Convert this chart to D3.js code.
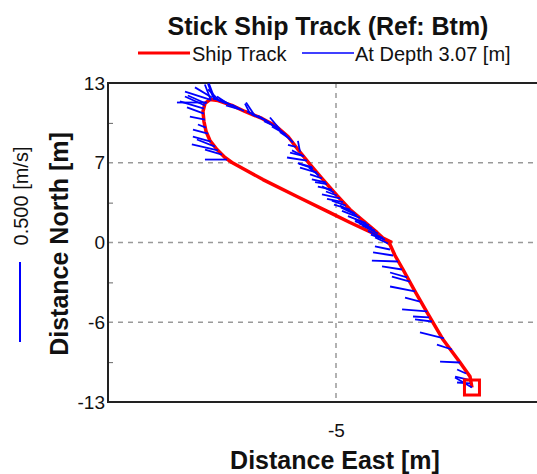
<!DOCTYPE html>
<html>
<head>
<meta charset="utf-8">
<script src="https://cdn.jsdelivr.net/npm/d3@7"></script>
<style>
  body { margin: 0; background: #fff; }
  svg { display: block; font-family: "Liberation Sans", Arial, sans-serif; }
</style>
</head>
<body>
<svg id="chart" width="537" height="474"></svg>
<script>
// ship track (metres east / north of reference)
const trackE = [6.08, 5.92, 5.11, 3.72, 2.42, 1.44, 0.46, -0.19, -0.60,
  -1.66, -2.80, -3.86, -4.92, -6.06, -7.12, -8.10, -8.91, -9.97, -11.03,
  -12.42, -13.48, -14.62, -15.27, -15.68,
  -15.84, -15.76, -15.59, -15.27, -14.70, -14.05,
  -13.48, -10.95, -8.18, -5.49, -3.86, -2.64, -1.41, -0.43];
const trackN = [-11.82, -10.92, -9.78, -7.91, -5.70, -3.99, -2.20, -1.06, -0.16,
  0.82, 1.79, 2.69, 3.83, 5.13, 6.36, 7.58, 8.64, 9.54, 10.11,
  10.68, 11.17, 11.57, 11.65, 11.33,
  10.68, 9.86, 9.05, 8.31, 7.58, 6.93,
  6.52, 5.13, 3.75, 2.44, 1.63, 1.06, 0.49, 0.00];

// current sticks at depth 3.07 m: ensemble position and velocity (m/s)
const stickE = [6.08, 5.92, 5.76, 5.60, 5.11, 4.45, 3.80, 2.82, 2.58, 2.42,
  1.85, 1.44, 1.03, 0.79, 0.38, 0.05, -0.35, -0.60, -0.76, -1.17,
  -1.58, -2.07, -2.55, -3.04, -3.45, -3.86, -4.43, -4.92, -5.33, -5.73,
  -6.14, -6.55, -6.96, -7.36, -7.69, -7.93, -8.26, -8.75, -9.32, -9.81,
  -10.38, -10.95, -11.44, -12.01, -12.50, -12.99, -13.48, -13.97, -14.45, -14.86,
  -15.19, -15.51, -15.68, -15.76, -15.76, -15.68, -15.60, -15.43, -15.19, -14.86,
  -14.62, -14.29, -13.88, -15.27, -15.11,
  -1.01, -1.82, -2.31, -3.29, -4.19, -4.67, -5.16, -5.82, -6.39, -6.87,
  -7.61, -8.50, -9.08, -9.56, -10.71, -11.68, -12.82, -13.72, -14.94, -15.60];
const stickN = [-11.82, -11.49, -11.17, -10.68, -9.78, -8.72, -7.82, -6.44, -6.11, -5.62,
  -4.81, -3.99, -3.18, -2.85, -2.20, -1.55, -1.06, -0.57, -0.08, 0.37,
  0.73, 1.17, 1.58, 2.00, 2.35, 2.69, 3.30, 3.83, 4.30, 4.76,
  5.23, 5.70, 6.14, 6.68, 7.07, 7.38, 7.79, 8.43, 8.98, 9.39,
  9.76, 10.07, 10.27, 10.50, 10.72, 10.94, 11.17, 11.34, 11.51, 11.65,
  11.57, 11.41, 11.17, 10.92, 10.51, 10.02, 9.37, 8.88, 8.23, 7.82,
  7.50, 7.17, 6.76, 11.65, 11.82,
  0.24, 0.98, 1.39, 2.20, 3.01, 3.59, 4.08, 4.89, 5.46, 6.03,
  7.01, 8.15, 8.80, 9.21, 9.94, 10.43, 10.84, 11.25, 11.65, 11.33];
const velU = [-0.106, -0.081, -0.081, -0.056, -0.125, -0.094, -0.150, -0.106, -0.100, -0.156,
  -0.094, -0.156, -0.113, -0.106, -0.125, -0.163, -0.125, -0.094, -0.081, -0.094,
  -0.100, -0.106, -0.113, -0.113, -0.094, -0.100, -0.100, -0.069, -0.088, -0.075,
  -0.075, -0.106, -0.088, -0.125, -0.081, -0.013, -0.050, -0.063, -0.081, -0.081,
  -0.075, -0.081, -0.063, -0.031, -0.075, -0.081, -0.075, -0.075, -0.075, -0.038,
  -0.038, -0.188, -0.125, -0.150, -0.106, -0.094, -0.050, -0.094, -0.113, -0.113,
  -0.163, -0.106, -0.138, -0.156, -0.106,
  -0.088, -0.100, -0.088, -0.100, -0.088, -0.113, -0.075, -0.088, -0.063, -0.088,
  -0.075, -0.063, -0.088, -0.063, -0.088, -0.050, -0.088, -0.075, -0.038, -0.113];
const velV = [0.063, 0.006, 0.019, 0.025, 0.006, 0.031, 0.038, 0.013, 0.006, 0.013,
  0.025, 0.031, 0.031, 0.031, 0.019, 0.006, 0.019, 0.019, 0.038, 0.044,
  0.050, 0.044, 0.044, 0.044, 0.050, 0.031, 0.019, 0.025, 0.019, 0.013,
  0.025, 0.031, 0.025, 0.019, 0.019, 0.069, 0.013, 0.044, 0.056, 0.038,
  0.044, 0.038, 0.031, 0.063, 0.038, 0.038, 0.038, 0.031, 0.075, 0.100,
  0.100, 0.000, 0.056, 0.044, 0.038, 0.019, 0.019, 0.025, 0.031, 0.044,
  0.038, 0.031, 0.000, 0.050, 0.063,
  0.031, 0.044, 0.038, 0.050, 0.031, 0.025, 0.038, 0.019, 0.050, 0.031,
  0.038, 0.063, 0.050, 0.075, 0.038, 0.075, 0.025, 0.050, 0.100, 0.050];

const yTicks = [-13, -6.5, 0, 6.5, 13];
const yTickLabels = ["-13", "-6", "0", "7", "13"];
const yMinorTicks = [-9.75, -3.25, 3.25, 9.75];
const xTicks = [-5];
const xTickLabels = ["-5"];
const scaleBarSpeed = 0.5; // m/s
const stickScale = 13.04;  // metres of plot per m/s

function drawChart() {
  const svg = d3.select("#chart");
  const left = 108, top = 83, bottom = 402, right = 564;

  const x = d3.scaleLinear().domain([-23.58, 13.58]).range([left, right]);
  const y = d3.scaleLinear().domain([-13, 13]).range([bottom, top]);

  // dashed grid
  svg.append("g").selectAll("line")
    .data(yTicks.filter(d => d > -13 && d < 13))
    .enter().append("line")
    .attr("x1", left).attr("x2", right)
    .attr("y1", d => y(d)).attr("y2", d => y(d))
    .attr("stroke", "#999").attr("stroke-width", 1.5).attr("stroke-dasharray", "5,5");
  svg.append("g").selectAll("line")
    .data(xTicks)
    .enter().append("line")
    .attr("x1", d => x(d)).attr("x2", d => x(d))
    .attr("y1", top).attr("y2", bottom)
    .attr("stroke", "#999").attr("stroke-width", 1.5).attr("stroke-dasharray", "5,5");

  // axes
  const yAxis = svg.append("g")
    .attr("transform", `translate(${left},0)`)
    .call(d3.axisLeft(y).tickValues(yTicks)
      .tickFormat((d, i) => yTickLabels[i]).tickSize(0).tickPadding(3));
  yAxis.select(".domain").remove();
  yAxis.selectAll("text").attr("font-size", 19).attr("fill", "#111")
    .attr("font-family", "Liberation Sans, Arial, sans-serif");

  const yMinor = svg.append("g")
    .attr("transform", `translate(${left},0)`)
    .call(d3.axisLeft(y).tickValues(yMinorTicks).tickFormat("").tickSize(-5));
  yMinor.select(".domain").remove();
  yMinor.selectAll("line").attr("stroke", "#666");

  const xAxis = svg.append("g")
    .attr("transform", `translate(0,${bottom})`)
    .call(d3.axisBottom(x).tickValues(xTicks)
      .tickFormat((d, i) => xTickLabels[i]).tickSize(0).tickPadding(22));
  xAxis.select(".domain").remove();
  xAxis.selectAll("text").attr("font-size", 19).attr("fill", "#111")
    .attr("font-family", "Liberation Sans, Arial, sans-serif");

  // frame
  const frame = svg.append("g").attr("stroke", "#222").attr("stroke-width", 2);
  frame.append("line").attr("x1", left).attr("x2", left).attr("y1", top).attr("y2", bottom);
  frame.append("line").attr("x1", left - 1).attr("x2", right).attr("y1", top).attr("y2", top);
  frame.append("line").attr("x1", left - 1).attr("x2", right).attr("y1", bottom).attr("y2", bottom);

  // ship track
  const trackData = trackE.map((e, i) => [e, trackN[i]]);
  svg.append("path")
    .datum(trackData)
    .attr("fill", "none")
    .attr("stroke", "#ff0000")
    .attr("stroke-width", 3.5)
    .attr("stroke-linejoin", "round")
    .attr("d", d3.line().x(d => x(d[0])).y(d => y(d[1])));

  // sticks
  const sticks = stickE.map((e, i) => ({ e: e, n: stickN[i], u: velU[i], v: velV[i] }));
  svg.append("g").selectAll("line")
    .data(sticks)
    .enter().append("line")
    .attr("x1", d => x(d.e))
    .attr("y1", d => y(d.n))
    .attr("x2", d => x(d.e + d.u * stickScale))
    .attr("y2", d => y(d.n + d.v * stickScale))
    .attr("stroke", "#0000ff")
    .attr("stroke-width", 1.8);

  // start marker
  svg.append("rect")
    .attr("x", x(trackE[0]) - 7.5)
    .attr("y", y(trackN[0]) - 7.5)
    .attr("width", 15).attr("height", 15)
    .attr("fill", "none").attr("stroke", "#ff0000").attr("stroke-width", 3);

  // titles
  svg.append("text")
    .attr("x", 328).attr("y", 35)
    .attr("text-anchor", "middle")
    .attr("font-size", 25).attr("font-weight", "bold").attr("fill", "#111")
    .text("Stick Ship Track (Ref: Btm)");
  svg.append("text")
    .attr("x", 335).attr("y", 469)
    .attr("text-anchor", "middle")
    .attr("font-size", 25).attr("font-weight", "bold").attr("fill", "#111")
    .text("Distance East [m]");
  svg.append("text")
    .attr("transform", "translate(68,244) rotate(-90)")
    .attr("text-anchor", "middle")
    .attr("font-size", 25).attr("font-weight", "bold").attr("fill", "#111")
    .text("Distance North [m]");

  // legend
  svg.append("line").attr("x1", 138).attr("x2", 190).attr("y1", 53).attr("y2", 53)
    .attr("stroke", "#ff0000").attr("stroke-width", 3);
  svg.append("text").attr("x", 192).attr("y", 61)
    .attr("font-size", 20).attr("fill", "#111").text("Ship Track");
  svg.append("line").attr("x1", 302).attr("x2", 354).attr("y1", 53).attr("y2", 53)
    .attr("stroke", "#0000ff").attr("stroke-width", 1.5);
  svg.append("text").attr("x", 355).attr("y", 61)
    .attr("font-size", 20).attr("fill", "#111").text("At Depth 3.07 [m]");

  // stick scale bar
  const barLen = y(0) - y(scaleBarSpeed * stickScale);
  svg.append("line")
    .attr("x1", 20).attr("x2", 20)
    .attr("y1", 342).attr("y2", 342 - barLen)
    .attr("stroke", "#0000ff").attr("stroke-width", 2);
  svg.append("text")
    .attr("transform", "translate(28,196) rotate(-90)")
    .attr("text-anchor", "middle")
    .attr("font-size", 20).attr("fill", "#111")
    .text(scaleBarSpeed.toFixed(3) + " [m/s]");
}

drawChart();
</script>
</body>
</html>
